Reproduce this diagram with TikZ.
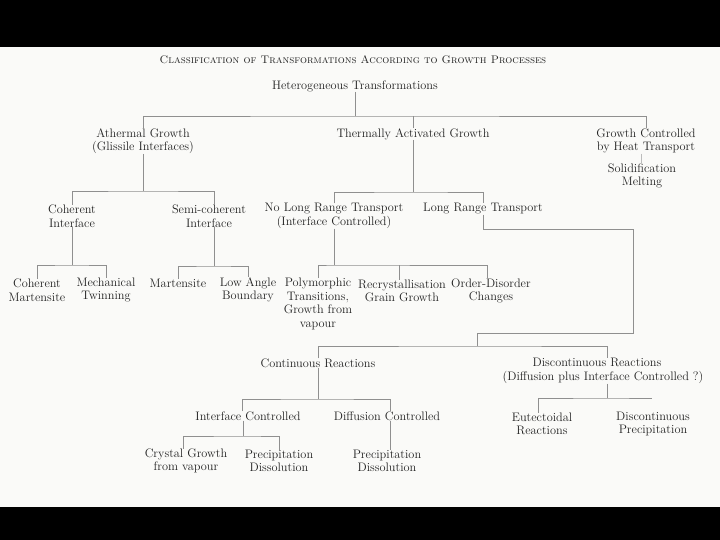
\documentclass[tikz,border=0pt]{standalone}
\usepackage{fontspec}
\definecolor{txt}{HTML}{222222}
\definecolor{ln}{HTML}{8F8F8F}
\definecolor{bg}{HTML}{FAFAF8}
\begin{document}
\begin{tikzpicture}[x=1pt,y=-1pt,
  lbl/.style={inner sep=0pt, align=center, text=txt, font=\fontsize{12.3}{13.5}\selectfont},
  ttl/.style={inner sep=0pt, text=txt, font=\fontsize{11}{13}\selectfont\scshape},
  conn/.style={draw=ln, line width=0.7pt},
  faint/.style={draw=ln!60, line width=0.6pt}]
\fill[black] (0,0) rectangle (720,540);
\fill[bg] (0,47) rectangle (720,507);
\useasboundingbox (0,0) rectangle (720,540);

% nodes
\node[ttl] (title) at (353,60) {Classification of Transformations According to Growth Processes};
\node[lbl] (het) at (355,86) {Heterogeneous Transformations};
\node[lbl] (ath) at (143,141) {Athermal Growth\\(Glissile Interfaces)};
\node[lbl] (th) at (413,134) {Thermally Activated Growth};
\node[lbl] (grw) at (646,141) {Growth Controlled\\by Heat Transport};
\node[lbl] (sol) at (642,176) {Solidification\\Melting};
\node[lbl] (coh) at (72,216) {Coherent\\Interface};
\node[lbl] (semi) at (209,216) {Semi-coherent\\Interface};
\node[lbl] (nolong) at (334,216) {No Long Range Transport\\(Interface Controlled)};
\node[lbl] (long) at (483,209) {Long Range Transport};
\node[lbl] (cm) at (37,290) {Coherent\\Martensite};
\node[lbl] (mech) at (106,290) {Mechanical\\Twinning};
\node[lbl] (mart) at (178,283) {Martensite};
\node[lbl] (low) at (248,290) {Low Angle\\Boundary};
\node[lbl] (poly) at (318,304) {Polymorphic\\Transitions,\\Growth from\\vapour};
\node[lbl] (recr) at (402,291) {Recrystallisation\\Grain Growth};
\node[lbl] (ord) at (491,291) {Order-Disorder\\Changes};
\node[lbl] (cont) at (318,363) {Continuous Reactions};
\node[lbl] (disc) at (603,371) {Discontinuous Reactions\hspace*{12pt}\\(Diffusion plus Interface Controlled ?)};
\node[lbl] (ic) at (248,416) {Interface Controlled};
\node[lbl] (dc) at (387,416) {Diffusion Controlled};
\node[lbl] (cg) at (186,461) {Crystal Growth\\from vapour};
\node[lbl] (pd1) at (279,461) {Precipitation\\Dissolution};
\node[lbl] (pd2) at (387,461) {Precipitation\\Dissolution};
\node[lbl] (eut) at (542,424) {Eutectoidal\\Reactions};
\node[lbl] (dp) at (653,424) {Discontinuous\\Precipitation};

% junctions
\coordinate (j0) at (355,116);
\coordinate (j1) at (143,191);
\coordinate (j2) at (413,192);
\coordinate (j3) at (72,265);
\coordinate (j4) at (214,266);
\coordinate (j5) at (334,265);
\coordinate (k1) at (483,229);
\coordinate (k2) at (633,333);
\coordinate (k3) at (477,346);
\coordinate (j6) at (318,399);
\coordinate (j7) at (243,436);
\coordinate (j8) at (607,398);
\coordinate (j8r) at (652,398);

% connectors
\draw[conn] (het) -- (j0);
\draw[conn] (ath) |- (j0) -| (grw);
\draw[conn] (th) -- (th |- j0);
\draw[faint] ([xshift=-5pt]grw.south) -- ([xshift=-1pt]sol.north);

\draw[conn] (ath) -- (j1);
\draw[conn] (coh) |- (j1) -| ([xshift=5pt]semi.north);
\draw[conn] (th) -- (j2);
\draw[conn] (nolong) |- (j2) -| (long);

\draw[conn] (coh) -- (j3);
\draw[conn] (cm) |- (j3) -| (mech);
\draw[conn] ([xshift=5pt]semi.south) -- (j4);
\draw[conn] (mart) |- (j4) -| (low);
\draw[conn] (nolong) -- (j5);
\draw[conn] (poly) |- (j5) -| ([xshift=-4pt]ord.north);
\draw[conn] ([xshift=-3pt]recr.north) -- ([xshift=-3pt]recr.north |- j5);

\draw[conn] (long) -- (k1) -| (k2) -| (k3);
\draw[conn] (cont) |- (k3) -| ([xshift=4pt]disc.north);

\draw[conn] (cont) -- (j6);
\draw[conn] ([xshift=-6pt]ic.north) |- (j6) -| ([xshift=3pt]dc.north);
\draw[conn] ([xshift=-5pt]ic.south) -- (j7);
\draw[conn] ([xshift=-3pt]cg.north) |- (j7) -| (pd1);
\draw[conn] ([xshift=3pt]dc.south) -- ([xshift=3pt]pd2.north);

\draw[conn] ([xshift=4pt]disc.south) -- (j8);
\draw[conn] ([xshift=-4pt]eut.north) |- (j8) -- (j8r);
\end{tikzpicture}
\end{document}
